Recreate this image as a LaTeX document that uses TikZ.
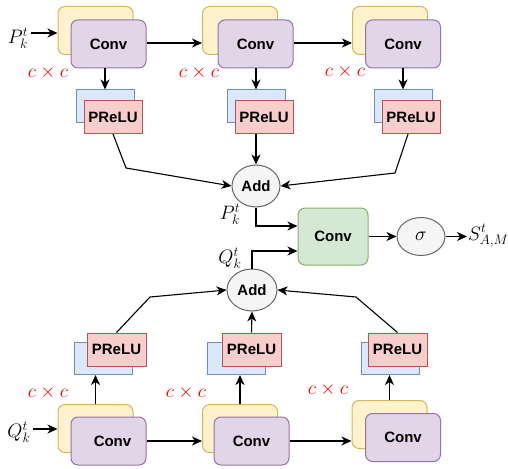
\RequirePackage{fix-cm}
\documentclass[tikz,border=0pt]{standalone}
\usepackage{fontspec}
\newfontfamily\boxfont{Liberation Sans}
\usetikzlibrary{arrows.meta,shapes.geometric,calc}

\definecolor{ylwfill}{HTML}{FFF2CC}\definecolor{ylwline}{HTML}{D6B656}
\definecolor{prpfill}{HTML}{E1D5E7}\definecolor{prpline}{HTML}{9673A6}
\definecolor{blufill}{HTML}{DAE8FC}\definecolor{bluline}{HTML}{6C8EBF}
\definecolor{redfill}{HTML}{F8CECC}\definecolor{redline}{HTML}{B85450}
\definecolor{grnfill}{HTML}{D5E8D4}\definecolor{grnline}{HTML}{82B366}
\definecolor{gryfill}{HTML}{F5F5F5}\definecolor{gryline}{HTML}{666666}
\definecolor{dimred}{HTML}{FF0000}

\begin{document}
\begin{tikzpicture}[x=1pt,y=-1pt,
  base/.style={inner sep=0pt,line width=1pt,font=\boxfont\bfseries\fontsize{15}{18}\selectfont},
  ylwbox/.style={base,draw=ylwline,fill=ylwfill,rounded corners=7pt,minimum width=75pt,minimum height=48pt},
  convbox/.style={base,draw=prpline,fill=prpfill,rounded corners=7pt,minimum width=75pt,minimum height=48pt},
  blubox/.style={base,draw=bluline,fill=blufill,minimum width=58pt,minimum height=32pt},
  relubox/.style={base,draw=redline,fill=redfill,minimum width=58pt,minimum height=33pt},
  addnode/.style={base,ellipse,draw=gryline,fill=gryfill,minimum width=48pt,minimum height=42pt},
  greenbox/.style={base,draw=grnline,fill=grnfill,rounded corners=7pt,minimum width=70pt,minimum height=57pt},
  mathlbl/.style={inner sep=0pt,font=\fontsize{19.5}{22}\selectfont},
  dimlbl/.style={mathlbl,text=dimred},
  arr/.style={line width=1.1pt,-{Stealth[length=10pt,width=9pt,inset=3pt]}}]
\useasboundingbox (0,0) rectangle (508,468);

% ---------- upper branch ----------
\node[ylwbox] (y1) at (95.5,30.5) {};
\node[convbox] (c1) at (108.5,44) {Conv};
\node[ylwbox] (y2) at (240,30.5) {};
\node[convbox] (c2) at (255.5,44) {Conv};
\node[ylwbox] (y3) at (390,30.5) {};
\node[convbox] (c3) at (403,44) {Conv};

\node[blubox] (b1) at (105,106) {};
\node[relubox] (r1) at (113,117) {PReLU};
\node[blubox] (b2) at (256,106) {};
\node[relubox] (r2) at (264,117) {PReLU};
\node[blubox] (b3) at (403,106) {};
\node[relubox] (r3) at (411,117) {PReLU};

\node[addnode] (add1) at (256,186) {Add};

% ---------- fusion ----------
\node[greenbox] (fuse) at (333,236.5) {Conv};
\node[addnode,minimum height=38pt] (sig) at (421,236.5) {\fontsize{19.5}{22}\selectfont\mdseries$\sigma$};
\coordinate (sout) at (467,236.5);

% ---------- lower branch ----------
\node[addnode,minimum width=50pt] (add2) at (252,290) {Add};

\node[blubox] (b4) at (103.5,358.5) {};
\node[relubox,minimum width=59pt] (r4) at (116.5,349.5) {PReLU};
\node[blubox] (b5) at (236.5,358.5) {};
\node[relubox,minimum width=59pt] (r5) at (251.5,349.5) {PReLU};
\node[blubox] (b6) at (390,358.5) {};
\node[relubox,minimum width=59pt] (r6) at (397.5,349.5) {PReLU};

\node[ylwbox] (y4) at (95.5,428.5) {};
\node[convbox] (c4) at (108.5,441) {\hspace*{8pt}Conv};
\node[ylwbox] (y5) at (240,428.5) {};
\node[convbox] (c5) at (251.5,441) {Conv};
\node[ylwbox] (y6) at (389.5,424.5) {};
\node[convbox] (c6) at (403,437.5) {Conv};

% ---------- inputs and labels ----------
\coordinate (pin) at (31,33);
\coordinate (qin) at (33,429);
\node[mathlbl] (plbl) at (18,38) {$P_k^t$};
\node[mathlbl] (qlbl) at (19,432) {$Q_k^t$};
\node[mathlbl] (pmid) at (230,214) {$P_k^t$};
\node[mathlbl] (qmid) at (230,258) {$Q_k^t$};
\node[mathlbl,anchor=west] (slbl) at (468,236) {$S_{A,M}^t$};

\node[dimlbl] (d1) at (48,73) {$c\times c$};
\node[dimlbl] (d2) at (199,73) {$c\times c$};
\node[dimlbl] (d3) at (345,72) {$c\times c$};
\node[dimlbl] (d4) at (48,393) {$c\times c$};
\node[dimlbl] (d5) at (186,393) {$c\times c$};
\node[dimlbl] (d6) at (328,390) {$c\times c$};

% ---------- connectors, upper branch ----------
\draw[arr] (pin) -- (pin -| y1.west);
\draw[arr] ([yshift=1pt]c1.east) -- ([yshift=1pt]c1.east -| y2.west);
\draw[arr] ([yshift=1pt]c2.east) -- ([yshift=1pt]c2.east -| y3.west);
\draw[arr] (b1.north |- c1.south) -- (b1.north);
\draw[arr] (b2.north |- c2.south) -- (b2.north);
\draw[arr] (b3.north |- c3.south) -- (b3.north);
\draw[arr] (r1.south) -- (126,168) -- (add1.west);
\draw[arr] (add1.north |- r2.south) -- (add1.north);
\draw[arr] ([xshift=-3pt]r3.south) -- (395,173) -- (add1.east);

% ---------- connectors, fusion ----------
\draw[arr] (add1.south) |- ([yshift=10.5pt]fuse.west);
\draw[arr] (add2.north) |- ([yshift=-14.5pt]fuse.west);
\draw[arr] (fuse.east) -- (sig.west);
\draw[arr] (sig.east) -- (sout);

% ---------- connectors, lower branch ----------
\draw[arr] (qin) -- (qin -| y4.west);
\draw[arr] (c4.east) -- (c4.east -| y5.west);
\draw[arr] (c5.east) -- (c5.east -| y6.west);
\draw[arr] (y4.north) -- (y4.north |- b4.south);
\draw[arr] (y5.north) -- (y5.north |- b5.south);
\draw[arr] (y6.north) -- (y6.north |- b6.south);
\draw[arr] (r4.north) -- (150,297) -- (add2.west);
\draw[arr] (r5.north) -- (add2.south);
\draw[arr] (r6.north) -- (356,297) -- (add2.east);
\end{tikzpicture}
\end{document}
